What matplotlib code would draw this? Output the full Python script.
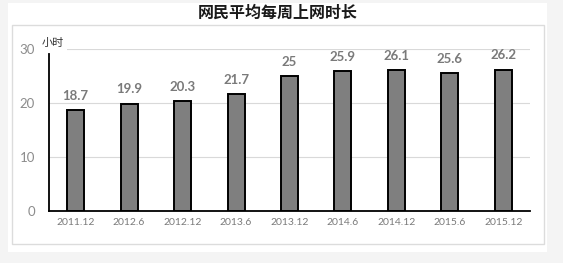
import matplotlib
matplotlib.use("Agg")
import matplotlib.pyplot as plt
from matplotlib.patches import Rectangle

categories = ["2011.12", "2012.6", "2012.12", "2013.6", "2013.12",
              "2014.6", "2014.12", "2015.6", "2015.12"]
values = [18.7, 19.9, 20.3, 21.7, 25, 25.9, 26.1, 25.6, 26.2]
yticks = [0, 10, 20, 30]
title = "网民平均每周上网时长"
unit = "小时"

W, H = 563, 263
fig = plt.figure(figsize=(W / 100, H / 100), dpi=100)
fig.patch.set_facecolor("#f4f4f4")

def fx(x): return x / W
def fy(y): return 1 - y / H

# white panel and inner border
fig.patches.append(Rectangle((fx(8), fy(252)), (547 - 8) / W, (252 - 3) / H,
                             transform=fig.transFigure, facecolor="white",
                             edgecolor="none", zorder=-2))
fig.patches.append(Rectangle((fx(12), fy(244)), (544 - 12) / W, (244 - 25) / H,
                             transform=fig.transFigure, facecolor="none",
                             edgecolor="#dcdcdc", lw=1, zorder=-1))

ax = fig.add_axes([fx(49), fy(211), (530 - 49) / W, (211 - 49) / H])
ax.set_zorder(3)
ax.set_facecolor("none")
x = list(range(len(categories)))
ax.bar(x, values, width=0.32, color="#7f7f7f", edgecolor="black", linewidth=1.4, zorder=3)
for xi, v in zip(x, values):
    ax.text(xi, v + 1.5, f"{v:g}", ha="center", va="bottom", fontsize=9.5,
            color="#7a7a7a", family=["Lato", "Noto Sans CJK SC"], fontweight="bold")

ax.set_xlim(-0.5, len(categories) - 0.5)
ax.set_ylim(0, 30)
ax.set_yticks(yticks)
ax.set_yticklabels([str(t) for t in yticks], fontsize=9.5, color="#8c8c8c",
                   family=["Lato", "Noto Sans CJK SC"])
ax.set_xticks(x)
ax.set_xticklabels(categories, fontsize=7.5, color="#7a7a7a",
                   family=["Lato", "Noto Sans CJK SC"])
ax.tick_params(axis="both", length=0)
ax.tick_params(axis="y", pad=10)
ax.tick_params(axis="x", pad=5)
ax.grid(axis="y", color="#d9d9d9", lw=0.8, zorder=0)
for s in ["top", "right"]:
    ax.spines[s].set_visible(False)
ax.spines["left"].set_color("black")
ax.spines["left"].set_linewidth(1.3)
ax.spines["left"].set_bounds(0, 29)
ax.spines["bottom"].set_color("black")
ax.spines["bottom"].set_linewidth(1.3)

fig.text(fx(53), fy(43), unit, ha="center", va="center", fontsize=8,
         family=["Noto Sans CJK SC", "DejaVu Sans"], color="#333333",
         bbox=dict(facecolor="white", edgecolor="none", pad=2), zorder=10)
fig.text(fx(278), fy(13), title, ha="center", va="center", fontsize=11.5,
         fontweight="bold", family=["Noto Sans CJK SC", "DejaVu Sans"], color="#1a1a1a")

fig.savefig("out.png", dpi=100, facecolor=fig.get_facecolor())
